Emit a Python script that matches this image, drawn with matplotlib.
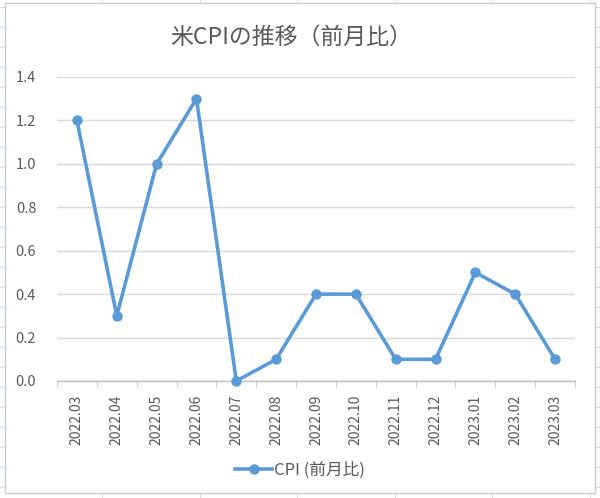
import matplotlib
matplotlib.use("Agg")
import matplotlib.pyplot as plt
from matplotlib.lines import Line2D
from matplotlib.patches import Rectangle
import numpy as np

plt.rcParams['font.family'] = ['Noto Sans CJK JP', 'DejaVu Sans']

# data
months = ["2022.03", "2022.04", "2022.05", "2022.06", "2022.07", "2022.08", "2022.09",
          "2022.10", "2022.11", "2022.12", "2023.01", "2023.02", "2023.03"]
cpi_mom = [1.2, 0.3, 1.0, 1.3, 0.0, 0.1, 0.4, 0.4, 0.1, 0.1, 0.5, 0.4, 0.1]
title = "米CPIの推移（前月比）"
series_label = "CPI (前月比)"

W, H = 600, 498
fig = plt.figure(figsize=(W / 100, H / 100), dpi=100)
fig.patch.set_facecolor("white")

# spreadsheet cell lines around the chart object
cell = "#d6dde4"
for x in [102, 200, 297, 395, 492, 590]:
    fig.add_artist(Line2D([x / W, x / W], [0, 1], color=cell, lw=0.8, zorder=0))
for y in range(7, H, 20):
    fig.add_artist(Line2D([0, 1], [1 - y / H, 1 - y / H], color=cell, lw=0.8, zorder=0))
# chart object frame
fig.add_artist(Rectangle((5 / W, 1 - 493 / H), 590 / W, 490 / H, facecolor="white",
                         edgecolor="#c5ced6", lw=1.0, zorder=0.5))

ax = fig.add_axes([57 / W, 1 - 381 / H, 518 / W, 304 / H])
ax.set_facecolor("none")
ax.set_zorder(1)

x = np.arange(len(months))
line_col = "#5b9bd5"
ax.plot(x, cpi_mom, color=line_col, lw=2.6, marker="o", ms=6.5, clip_on=False, zorder=3)

ax.set_xlim(-0.5, len(months) - 0.5)
ax.set_ylim(0, 1.4)
ax.set_yticks(np.arange(0, 1.41, 0.2))
ax.set_yticklabels([f"{v:.1f}" for v in np.arange(0, 1.41, 0.2)])
ax.set_xticks(x)
ax.set_xticklabels(months, rotation=90)
ax.set_xticks(np.arange(-0.5, len(months), 1), minor=True)

ax.grid(axis="y", color="#d9d9d9", lw=1.0)
ax.set_axisbelow(True)
for s in ["top", "right", "left"]:
    ax.spines[s].set_visible(False)
ax.spines["bottom"].set_color("#bfbfbf")
ax.spines["bottom"].set_linewidth(1.0)
ax.tick_params(axis="x", which="major", length=0, pad=10, labelsize=10, labelcolor="#595959")
ax.tick_params(axis="x", which="minor", length=4, color="#bfbfbf", direction="out")
ax.tick_params(axis="y", length=0, pad=15, labelsize=10.5, labelcolor="#595959")

fig.text(291 / W, 1 - 37 / H, title, ha="center", va="center", fontsize=16.5, color="#595959")

handle = Line2D([], [], color=line_col, lw=2.6, marker="o", ms=6.5)
fig.legend([handle], [series_label], loc="center", bbox_to_anchor=(300 / W, 1 - 470 / H),
           frameon=False, fontsize=12, labelcolor="#595959", handlelength=2.2,
           handletextpad=0.1)

fig.savefig("out.png", dpi=100)
